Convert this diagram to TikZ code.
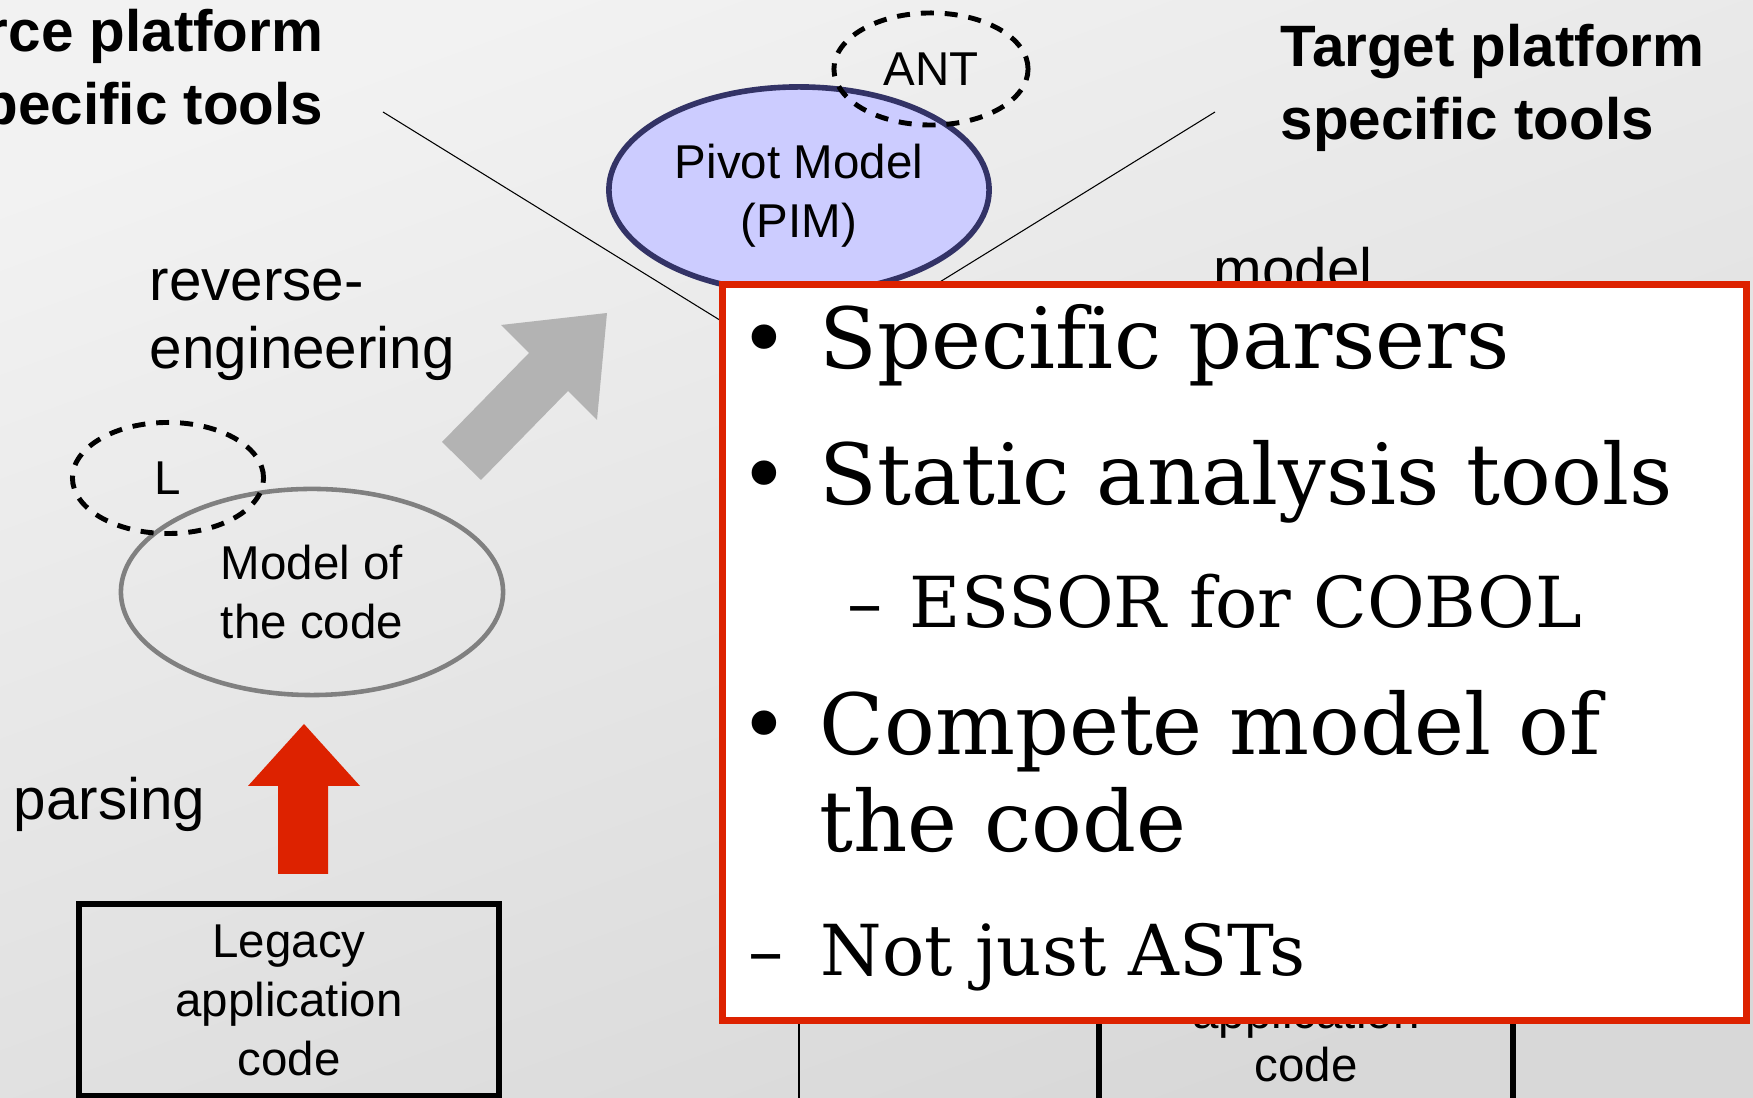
\documentclass[tikz,border=0pt]{standalone}
\usepackage{fontspec}
\setmainfont{Liberation Sans}
\newfontfamily\slidefont[Ligatures=NoCommon]{DejaVu Serif}
\usetikzlibrary{shapes.geometric,positioning}

\definecolor{pivotfill}{HTML}{CCCCFF}
\definecolor{pivotline}{HTML}{333366}
\definecolor{alertred}{HTML}{DD2200}
\definecolor{arrowgray}{HTML}{B3B3B3}
\definecolor{modelgray}{HTML}{808080}
\definecolor{bgtop}{HTML}{F2F2F2}
\definecolor{bgbottom}{HTML}{D8D8D8}

\tikzset{
	headfont/.style={font=\fontsize{16.6}{20.8}\selectfont\bfseries},
	labelfont/.style={font=\fontsize{16.6}{19.6}\selectfont},
	nodefont/.style={font=\fontsize{13.5}{16.8}\selectfont},
	modelbubble/.style={ellipse, draw, inner sep=0pt, nodefont},
	langbubble/.style={ellipse, draw=black, line width=1.4pt, dash pattern=on 3.7pt off 3.1pt, inner sep=0pt, nodefont},
	codebox/.style={rectangle, draw=black, line width=1.7pt, inner sep=0pt, nodefont, align=center},
	bigitem/.style={anchor=base west, inner sep=0pt, font=\slidefont\fontsize{24}{29}\selectfont},
	subitem/.style={anchor=base west, inner sep=0pt, font=\slidefont\fontsize{20}{24}\selectfont}
}

\begin{document}
\begin{tikzpicture}[x=0.01cm,y=-0.01cm]
	\path [use as bounding box] (0,0) rectangle (1753,1098);
	\clip (0,0) rectangle (1753,1098);
	\shade [top color=bgtop, bottom color=bgbottom, shading angle=20] (0,0) rectangle (1753,1098);

	% the Y of the migration chart
	\coordinate (srcend) at (383,112);
	\coordinate (tgtend) at (1215,112);
	\coordinate (meet) at (799,369);
	\coordinate (stem) at (799,1098);
	\draw [line width=0.3pt] (srcend) -- (meet) -- (tgtend);
	\draw [line width=0.3pt] (meet) -- (stem);

	\node [headfont, align=right, anchor=base east, inner sep=0pt] (srchead) at (324,125) {Source platform\\specific tools};
	\node [headfont, align=left, anchor=base west, inner sep=0pt] (tgthead) at (1280,140) {Target platform\\specific tools};

	\node [modelbubble, fill=pivotfill, draw=pivotline, line width=1.6pt, minimum width=3.8cm, minimum height=2.06cm, align=center] (pim) at (799,190) {};
	\node [nodefont, align=center, inner sep=0pt] (pimtext) at (799,196) {Pivot Model\\(PIM)};
	\node [langbubble, minimum width=1.94cm, minimum height=1.12cm] (ant) at (931,69) {ANT};

	\node [labelfont, align=left, anchor=base west, inner sep=0pt] (revlabel) at (149,369) {reverse-\\engineering};
	\node [labelfont, anchor=base west, inner sep=0pt] (parselabel) at (13,820) {parsing};
	\node [labelfont, anchor=base west, inner sep=0pt] (fwdlabel) at (1213,290) {model};

	\node [modelbubble, draw=modelgray, line width=1.3pt, minimum width=3.82cm, minimum height=2.06cm, align=center] (codemodel) at (312,592) {Model of\\the code};
	\node [langbubble, minimum width=1.91cm, minimum height=1.11cm] (lang) at (168,478) {L};

	% block arrows
	\fill [arrowgray] (481,480) -- (442,442) -- (529,353) -- (501,325) -- (607,313) -- (597,420) -- (568,391) -- cycle;
	\fill [alertred] (278,874) -- (278,786) -- (248,786) -- (304,724) -- (360,786) -- (328,786) -- (328,874) -- cycle;

	\node [codebox, minimum width=4.19cm, minimum height=1.91cm] (legacy) at (289,1000) {Legacy\\application\\code};
	\node [codebox, minimum width=4.14cm, minimum height=2.2cm] (newcode) at (1306,1015) {};
	\node [font=\fontsize{13.5}{15.2}\selectfont, align=center, anchor=base, inner sep=0pt] (newtext) at (1306,1082) {application\\code};

	% the slide box on top
	\node [rectangle, fill=white, draw=alertred, line width=2pt, minimum width=10.23cm, minimum height=7.35cm] (slide) at (1234.5,652.5) {};
	\node [bigitem] (b1) at (739,369) {•};
	\node [bigitem] (t1) at (819,369) {Specific parsers};
	\node [bigitem] (b2) at (739,505) {•};
	\node [bigitem] (t2) at (819,505) {Static analysis tools};
	\node [subitem] (d1) at (847,628) {–};
	\node [subitem] (t3) at (909,628) {ESSOR for COBOL};
	\node [bigitem] (b3) at (739,755) {•};
	\node [bigitem] (t4) at (819,755) {Compete model of};
	\node [bigitem] (t5) at (819,852) {the code};
	\node [subitem] (d2) at (748,976) {–};
	\node [subitem] (t6) at (820,976) {Not just ASTs};
\end{tikzpicture}
\end{document}
